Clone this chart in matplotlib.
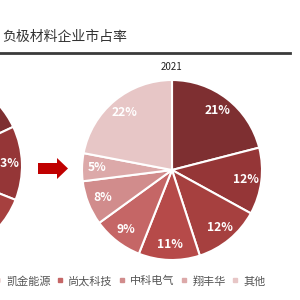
import matplotlib
matplotlib.use("Agg")
import matplotlib.pyplot as plt
from matplotlib.lines import Line2D
from matplotlib.patches import FancyArrow

plt.rcParams['font.family'] = ['Noto Sans CJK SC', 'DejaVu Sans']

companies = ["贝特瑞", "杉杉股份", "璞泰来", "凯金能源", "尚太科技", "中科电气", "翔丰华", "其他"]
share_2020 = [18, 13, 12, 11, 9, 7, 6, 24]
share_2021 = [21, 12, 12, 11, 9, 8, 5, 22]
colors = ["#7E2F31", "#953637", "#A6403F", "#B64A49", "#C56666", "#D18C8C", "#DCA9A9", "#E7C6C6"]

W = H = 300


def pie_axes(fig, cx, cy, r):
    return fig.add_axes([(cx - r) / W, (H - cy - r) / H, 2 * r / W, 2 * r / H])


def draw_pie(ax, vals):
    ax.pie(vals, colors=colors, startangle=90, counterclock=False,
           autopct=lambda p: f"{p:.0f}%", pctdistance=0.83,
           wedgeprops=dict(edgecolor="white", linewidth=1.5),
           textprops=dict(color="white", fontsize=8.7, fontweight="bold"))
    ax.set_xlim(-1, 1)
    ax.set_ylim(-1, 1)
    ax.axis("off")


fig = plt.figure(figsize=(3, 3), dpi=100)

# title and rule
fig.text(2 / W, 1 - 37 / H, "负极材料企业市占率", fontsize=10, color="#333333",
         ha="left", va="center")
fig.add_artist(Line2D([0, 290 / W], [1 - 53 / H] * 2, color="#3A3A3A", lw=2))

# 2020 pie, mostly off canvas to the left
draw_pie(pie_axes(fig, -70, 166, 92), share_2020)

# 2021 pie
draw_pie(pie_axes(fig, 172, 170, 90), share_2021)
fig.text(172 / W, 1 - 67 / H, "2021", fontsize=7, color="#222222", ha="center", va="center")

# arrow between pies
fig.add_artist(FancyArrow(
    38 / W, 1 - 168.5 / H, 19 / W, 0, width=11 / H, head_width=21 / H, head_length=11 / W,
    length_includes_head=False, color="#C00000", lw=0, transform=fig.transFigure))

# legend (first entries run off the left edge)
handles = [Line2D([], [], marker="s", ls="", color=c, markersize=3) for c in colors]
fig.legend(handles, companies, ncol=8, loc="center right", bbox_to_anchor=(276 / W, 1 - 281 / H),
           frameon=False, fontsize=8, handlelength=0.6, handletextpad=0.45, columnspacing=0.55,
           labelcolor="#555555")

fig.savefig("out.png", dpi=100)
